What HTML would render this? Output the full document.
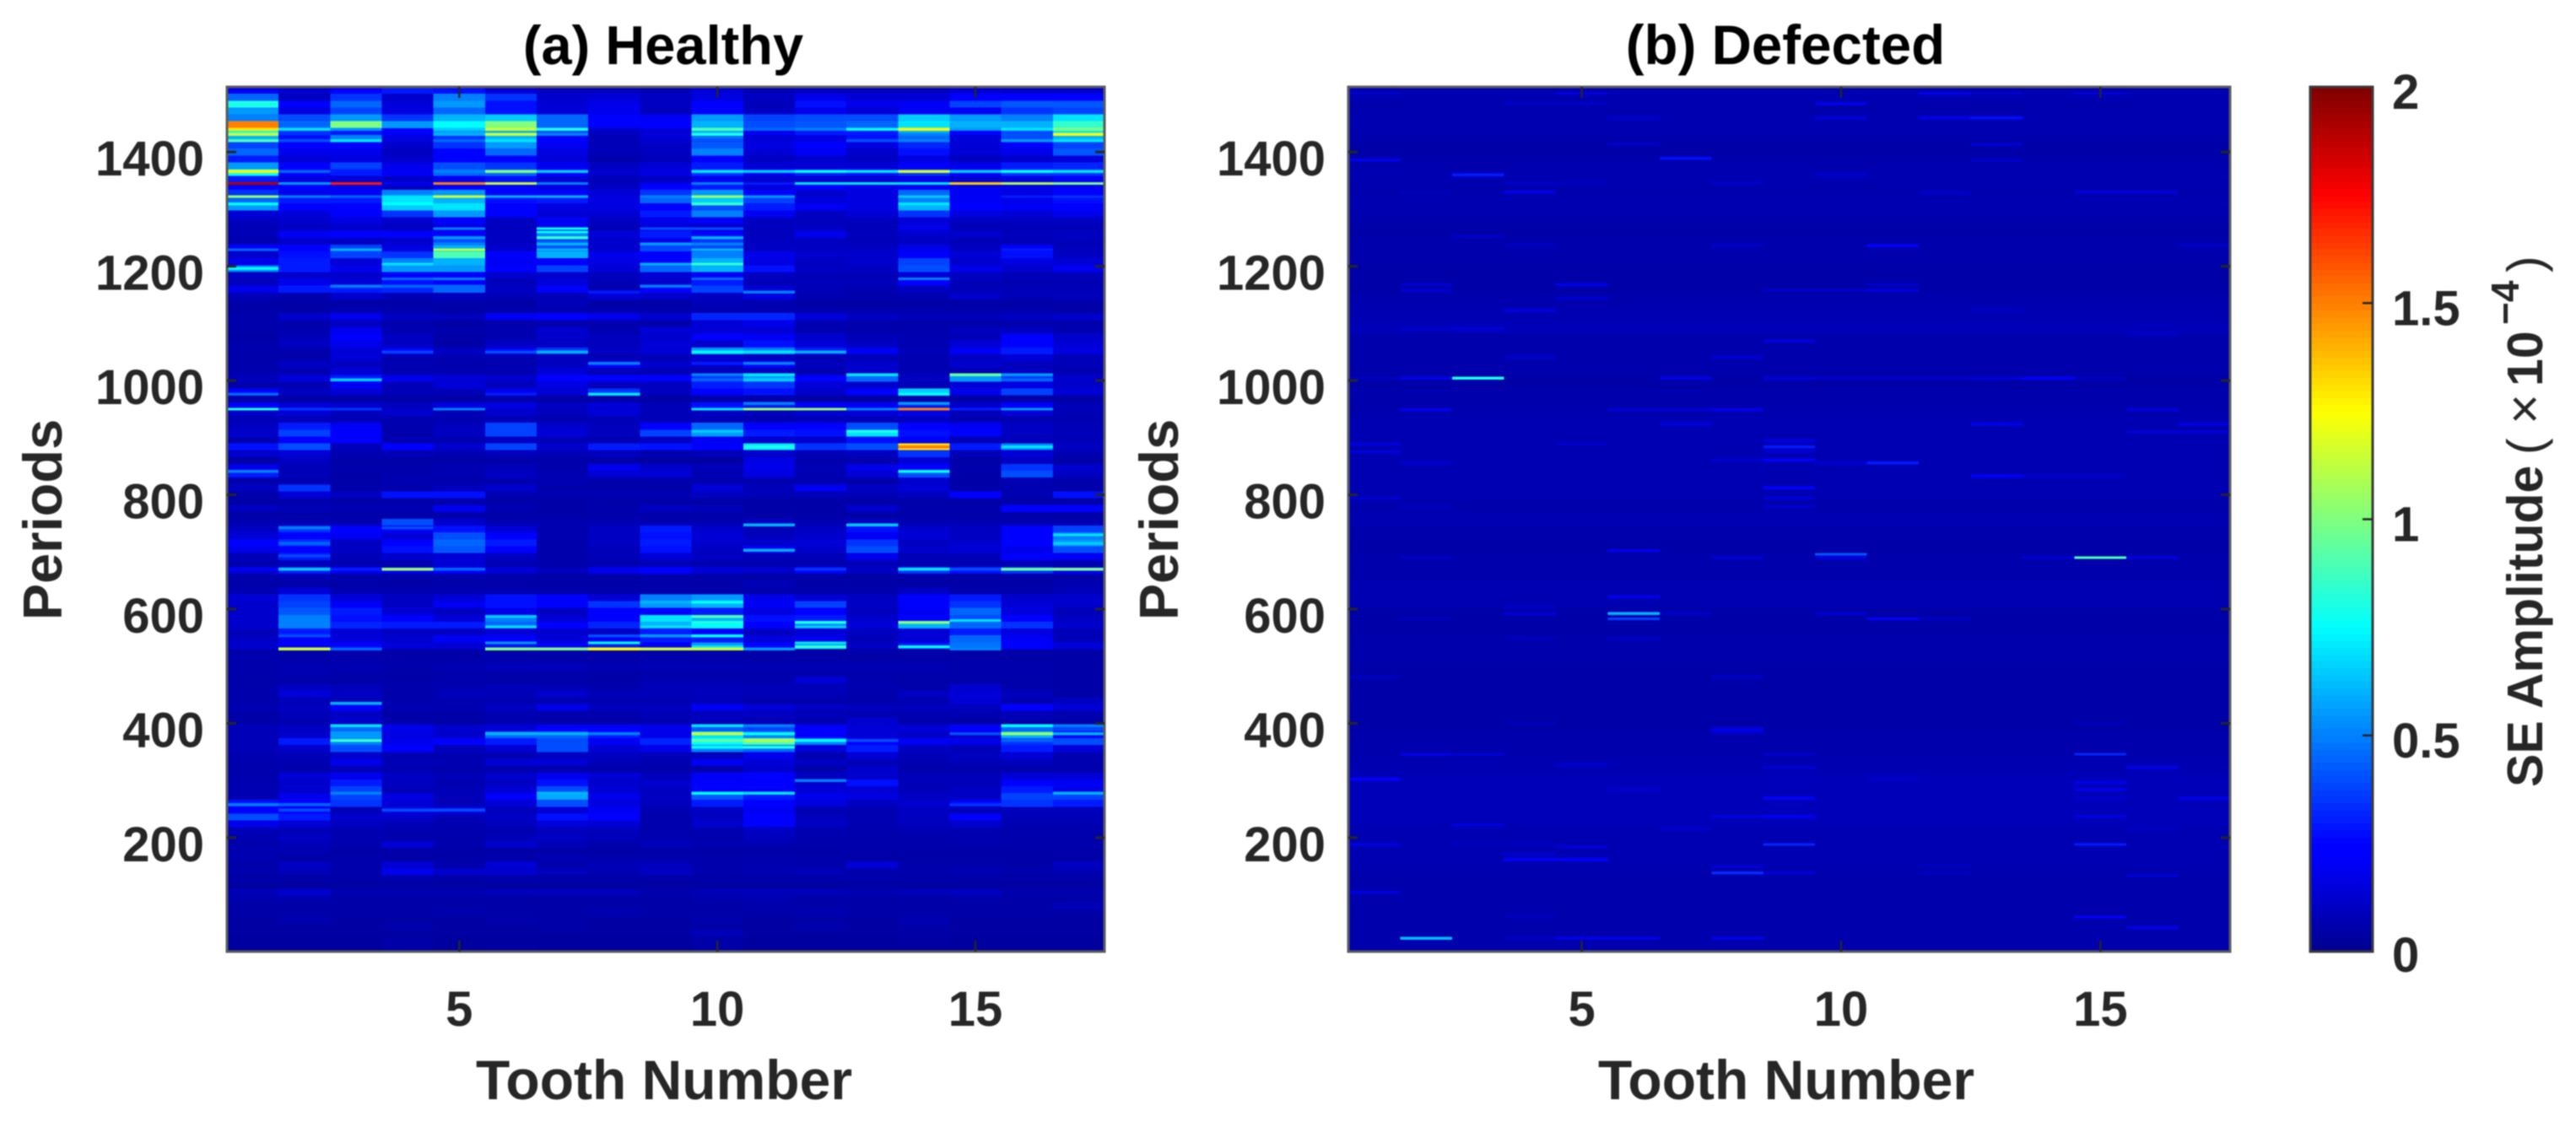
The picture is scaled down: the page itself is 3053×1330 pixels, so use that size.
<!DOCTYPE html>
<html lang="en">
<head>
<meta charset="utf-8">
<title>SE Amplitude heatmaps: healthy and defected</title>
<style>
html,body{margin:0;padding:0;background:#fff;}
svg{display:block;filter:blur(0.8px);}
text{font-family:"Liberation Sans",Arial,sans-serif;font-weight:bold;fill:#262626;}
</style>
</head>
<body>
<svg id="figure" xmlns="http://www.w3.org/2000/svg" width="3053" height="1330" viewBox="0 0 3053 1330">
<rect width="3053" height="1330" fill="#fff"/>
<defs>
<clipPath id="clip-a"><rect x="269" y="103" width="1040" height="1025"/></clipPath>
<clipPath id="clip-b"><rect x="1598" y="103" width="1045" height="1025"/></clipPath>
</defs>
<g id="heat-a" clip-path="url(#clip-a)"></g>
<g id="heat-b" clip-path="url(#clip-b)"></g>
<g id="colorbar"></g>
<g id="axes"></g>
<text x="786" y="76" font-size="65" text-anchor="middle" style="fill:#000">(a) Healthy</text>
<text x="2116" y="76" font-size="65.5" text-anchor="middle" style="fill:#000">(b) Defected</text>
<text x="787" y="1303" font-size="66" text-anchor="middle">Tooth Number</text>
<text x="2117" y="1303" font-size="66" text-anchor="middle">Tooth Number</text>
<text transform="translate(73,616) rotate(-90)" font-size="65" text-anchor="middle">Periods</text>
<text transform="translate(1396,616) rotate(-90)" font-size="65" text-anchor="middle">Periods</text>
<g>
<text transform="translate(3013,933) rotate(-90)" font-size="59">SE Amplitude</text>
<text transform="translate(3013,539) rotate(-90)" font-size="59" style="font-weight:normal">(</text>
<text transform="translate(3013,503) rotate(-90)" font-size="62" style="font-weight:normal">×</text>
<text transform="translate(3013,458) rotate(-90)" font-size="59">10</text>
<text transform="translate(2985,385) rotate(-90)" font-size="46">−4</text>
<text transform="translate(3013,323) rotate(-90)" font-size="59" style="font-weight:normal">)</text>
</g>
</svg>
<script>
// Tick labels
const toothTicks = [5, 10, 15];
const periodTicks = [200, 400, 600, 800, 1000, 1200, 1400];
const colorTicks = [0, 0.5, 1, 1.5, 2];
// Value range of the colour scale (units of 1e-6; 200 = 2 x 1e-4)
const colorMax = 200;
const periodMax = 1514;
const periodMin = 0.5;
const healthyRowSpan = 12;
const defectedRowSpan = 24;
const streakSpan = 5;

// Healthy: amplitude per 12-period band, top row first, one value per tooth 1..17
const healthyRows = [
[20,12,22,30,28,14,10,10,8,14,8,10,10,10,14,12,12],
[45,10,35,12,50,35,12,14,10,16,10,18,14,14,25,25,22],
[80,22,45,15,55,28,14,18,10,25,8,28,18,20,38,42,42],
[55,16,38,16,45,28,14,18,9,22,10,18,14,20,20,35,38],
[50,40,55,35,60,65,45,25,20,55,38,40,40,65,55,50,70],
[150,45,100,55,75,100,45,22,22,60,40,42,45,70,60,60,85],
[80,35,30,25,55,60,40,10,14,60,20,30,30,60,22,40,70],
[60,28,50,16,35,60,22,8,14,45,14,16,28,45,15,40,60],
[38,25,25,12,35,55,20,8,10,42,16,25,16,32,14,25,38],
[45,18,18,10,22,45,16,8,10,50,14,20,12,28,14,18,42],
[30,14,16,12,22,25,14,6,8,22,10,12,10,16,10,12,15],
[55,22,38,18,40,35,20,10,14,30,14,14,14,25,18,30,32],
[75,25,30,20,45,45,25,12,16,35,22,30,28,35,22,35,35],
[30,16,14,12,20,28,14,8,10,20,12,14,14,18,14,16,25],
[22,22,18,10,25,22,16,10,25,30,15,22,18,20,18,18,20],
[35,18,20,50,55,25,25,14,35,55,25,12,16,45,20,16,25],
[45,30,30,70,60,28,30,16,45,65,38,15,16,50,20,18,28],
[55,24,25,65,70,25,16,16,22,40,30,20,16,60,22,20,22],
[15,15,25,35,55,22,14,14,30,50,20,10,14,35,16,14,18],
[10,12,16,12,25,10,20,10,18,20,10,9,9,14,10,10,10],
[8,10,12,10,16,9,18,8,14,12,9,10,8,18,8,8,8],
[8,20,22,22,22,10,50,14,30,25,9,18,9,12,12,9,10],
[7,12,10,12,40,10,40,12,18,35,10,10,8,10,8,8,8],
[25,22,38,16,60,12,40,12,38,38,10,10,10,18,10,20,9],
[12,28,38,35,90,22,60,18,25,50,18,12,12,25,14,28,10],
[18,30,14,50,60,20,25,16,25,60,16,10,12,38,12,16,14],
[50,30,18,55,55,25,38,14,45,60,28,10,10,40,18,12,20],
[10,12,12,22,25,12,12,9,14,20,10,8,8,14,10,8,8],
[9,18,14,28,25,8,15,8,12,30,8,8,8,25,8,7,7],
[18,30,30,32,45,10,25,7,25,38,14,8,7,10,8,8,8],
[8,6,12,8,9,8,8,14,12,10,16,7,6,7,12,8,9],
[5,5,5,5,6,5,8,5,5,8,7,5,5,5,5,5,5],
[5,5,7,6,5,6,7,6,6,7,7,6,6,6,6,6,5],
[6,12,18,10,9,20,25,18,12,32,32,15,10,8,8,10,12],
[6,6,10,6,5,6,6,6,6,14,18,7,6,6,6,6,6],
[6,7,18,7,6,7,12,7,14,14,14,7,6,6,9,10,7],
[5,8,22,10,5,7,12,9,12,22,20,12,8,7,8,22,12],
[6,10,18,10,5,10,10,9,14,12,28,14,10,7,14,22,14],
[6,6,14,22,10,22,35,10,14,55,50,30,20,8,20,30,16],
[6,6,14,7,7,7,9,8,8,12,10,7,8,7,10,14,8],
[6,10,9,7,6,7,10,22,12,12,25,9,12,7,12,9,8],
[6,7,14,7,7,7,14,8,8,8,9,7,12,7,7,10,7],
[9,15,30,18,14,12,25,22,22,35,55,25,45,10,55,35,12],
[6,7,20,8,14,9,16,9,9,30,35,14,12,8,14,16,12],
[25,10,14,8,8,18,14,35,10,22,28,12,22,65,18,38,14],
[6,5,5,5,5,6,5,5,5,6,6,5,5,6,5,5,5],
[25,14,12,10,16,16,10,14,8,28,30,25,20,30,12,22,8],
[12,14,9,12,8,12,9,14,8,10,10,14,14,18,8,14,8],
[8,8,8,7,7,8,7,8,8,8,7,8,8,10,7,7,7],
[10,30,20,6,9,38,12,9,25,45,25,22,40,22,20,10,8],
[12,38,25,6,10,38,14,9,38,55,30,28,70,28,25,10,8],
[7,22,22,7,7,10,8,7,10,20,12,12,28,20,8,8,8],
[28,40,8,22,12,38,12,30,28,22,70,35,40,130,30,50,10],
[12,14,7,8,7,9,8,9,7,8,12,8,10,35,8,14,7],
[5,10,5,5,5,5,5,5,4,4,16,6,6,14,5,10,5],
[18,8,6,6,7,8,6,18,12,8,18,8,18,25,6,35,12],
[30,8,5,6,7,10,7,14,14,7,16,7,14,40,5,40,10],
[6,7,5,7,6,7,7,6,6,7,7,7,6,12,5,7,6],
[10,35,6,6,9,12,6,6,5,14,8,20,10,14,5,7,6],
[6,14,10,28,28,7,7,7,7,10,8,8,8,10,22,7,28],
[5,6,5,5,6,5,5,5,5,5,5,5,5,5,5,5,5],
[10,8,7,7,18,7,5,6,10,8,5,5,12,6,6,22,22],
[5,5,5,5,6,5,5,6,5,5,5,5,5,5,5,5,5],
[7,7,7,40,12,7,7,7,7,7,10,7,10,7,7,7,7],
[10,35,22,22,28,14,6,10,30,12,8,10,28,12,10,22,38],
[14,22,20,14,40,25,7,10,28,14,9,12,20,14,10,25,50],
[22,35,10,25,45,30,6,10,30,12,12,14,35,10,12,22,55],
[18,22,10,28,42,25,6,8,28,10,25,12,40,12,14,18,40],
[8,30,8,12,14,10,6,8,14,10,8,8,18,8,8,25,20],
[7,8,7,7,14,7,6,7,8,7,7,7,8,7,7,8,7],
[14,30,18,20,25,14,9,18,25,14,12,20,10,35,28,35,25],
[6,7,6,5,6,6,5,5,6,6,5,5,5,5,5,5,5],
[5,5,5,5,5,5,5,5,5,5,8,5,5,5,5,5,7],
[7,14,7,7,7,7,6,6,6,6,6,6,6,10,6,6,8],
[14,35,15,10,14,28,25,14,50,55,18,14,10,22,30,12,12],
[12,38,20,10,20,28,22,35,55,60,20,38,10,25,35,14,12],
[12,42,30,14,10,18,10,22,25,30,16,25,9,20,45,16,8],
[12,50,28,25,14,50,14,25,70,60,28,30,12,22,40,25,10],
[12,50,32,30,30,45,25,32,60,75,22,50,14,60,45,35,12],
[8,30,14,10,10,14,12,10,30,25,10,14,10,14,30,16,8],
[10,25,15,12,20,22,14,20,30,30,15,18,8,14,45,20,8],
[12,22,25,15,14,28,22,30,20,55,22,55,10,28,48,22,15],
[6,6,6,5,5,6,6,6,6,6,5,5,5,5,5,5,5],
[6,5,6,5,5,6,5,5,6,6,5,5,5,5,5,5,5],
[6,7,7,6,7,9,9,7,8,8,7,7,7,7,6,6,5],
[6,7,6,5,6,6,6,5,6,6,6,6,6,6,6,6,5],
[5,5,5,5,6,5,5,5,7,7,6,14,6,5,5,5,5],
[6,10,8,6,7,8,7,6,8,8,8,8,7,6,12,6,5],
[6,14,10,6,8,8,12,8,8,9,8,8,6,10,14,9,5],
[6,8,8,6,7,7,7,7,7,8,6,6,6,7,14,7,10],
[7,9,25,7,7,10,18,9,9,20,14,10,9,9,9,25,14],
[5,8,10,5,5,7,6,6,8,9,10,8,7,7,7,8,7],
[5,7,12,6,5,7,6,6,7,9,8,7,12,6,5,6,5],
[8,10,45,18,12,14,25,25,18,42,38,25,14,14,22,45,38],
[8,12,55,16,12,45,45,30,18,70,50,22,14,12,12,60,22],
[8,30,50,18,25,30,40,20,32,75,90,50,22,20,18,35,40],
[8,12,40,25,9,14,40,14,18,50,45,15,30,10,8,30,15],
[7,8,12,7,7,7,10,10,8,9,18,7,14,8,10,14,7],
[6,7,18,8,7,14,14,8,7,20,14,10,8,7,8,9,7],
[6,6,8,7,6,6,6,6,6,6,12,6,12,6,6,6,6],
[6,14,18,10,8,12,18,14,9,20,25,10,12,8,8,14,14],
[7,12,30,10,7,10,28,12,12,22,22,12,28,8,8,22,20],
[7,12,38,8,8,14,40,14,10,25,25,14,14,8,10,30,18],
[7,18,38,16,8,25,58,18,10,42,30,18,16,10,10,38,38],
[28,25,35,14,8,14,40,16,9,30,22,16,10,12,25,35,30],
[22,22,8,18,18,9,14,20,7,10,20,7,7,10,8,9,9],
[40,30,12,12,8,10,28,22,6,10,25,9,7,10,25,8,8],
[18,14,10,8,7,9,15,14,6,12,22,10,7,9,12,7,7],
[8,8,7,7,6,7,9,9,6,7,10,7,6,7,7,6,6],
[7,10,7,6,6,8,10,8,7,6,9,6,6,6,7,6,6],
[6,8,6,14,6,12,8,6,8,7,7,6,6,6,6,6,6],
[7,7,5,5,5,5,5,5,5,5,5,5,5,5,5,5,5],
[7,5,6,5,5,6,7,6,6,6,6,6,5,5,5,5,5],
[5,10,6,14,6,14,6,8,9,6,7,6,14,6,6,5,10],
[6,8,6,18,12,12,9,7,10,6,7,8,6,6,7,6,7],
[5,5,5,6,5,6,5,5,5,5,5,5,6,5,5,5,5],
[4,4,4,4,4,4,4,4,4,4,4,4,4,4,4,4,4],
[8,12,7,7,7,8,9,9,6,8,8,8,7,8,10,6,6],
[6,6,5,5,5,5,5,5,5,6,7,5,5,5,5,5,5],
[5,5,5,5,5,5,5,5,5,5,6,5,5,5,5,5,8],
[5,5,5,5,6,5,5,7,5,5,5,7,5,5,5,5,5],
[4,7,4,4,4,6,5,4,4,6,4,4,4,7,4,4,4],
[4,4,4,6,4,4,5,4,4,5,4,6,4,5,4,4,4],
[4,4,4,4,4,4,4,4,4,8,4,4,4,5,4,4,4],
[3,3,3,5,3,3,3,3,3,5,3,3,3,4,3,3,3],
[3,3,3,5,3,4,3,3,3,5,3,3,3,3,3,3,3],
[3,3,3,3,3,3,3,3,3,3,3,3,3,3,3,3,3]
];

// Healthy: thin lines, each [period, tooth, value, tooth, value, ...]
const healthyStreaks = [
[1440,1,130,2,70,3,55,5,65,6,115,7,80,10,90,11,45,12,50,13,75,14,125,15,55,16,70,17,100],
[1431,1,115,5,60,6,115,7,50,10,80,14,50,17,125],
[1420,1,90,2,40,3,70,5,45,6,70,10,40,13,40,14,50,16,55,17,70],
[1366,1,125,2,45,5,50,6,100,7,65,10,70,11,65,12,75,13,70,14,115,15,65,16,75,17,70],
[1345,1,190,2,55,3,170,4,20,5,150,6,115,7,50,10,50,11,30,12,70,13,70,14,70,15,135,16,110,17,100],
[1322,1,105,2,50,3,45,4,70,5,115,6,60,7,60,9,50,10,105,11,55,14,65,16,30,17,35],
[1309,1,75,4,75,10,85,14,70],
[1266,5,50,7,75,9,40,10,40],
[1260,7,75],
[1250,5,55,7,85,10,60],
[1239,5,50,7,60,9,55,10,50],
[1229,1,45,3,60,5,110,7,60,9,40,10,60,16,30],
[1204,4,70,9,60,10,85],
[1196,1,75],
[1178,4,45,5,50,10,45,14,50],
[1165,3,50,4,45,5,45,9,50],
[1155,8,30,11,50],
[1050,4,38,6,40,7,60,10,75,11,70,12,60],
[1030,8,50,10,30,11,50],
[1010,10,50,11,70,13,70,15,95,16,55],
[1001,3,65,10,45,11,65,13,45,16,45],
[976,1,45,6,30,8,70,14,75],
[960,11,50,14,55],
[950,1,80,2,35,3,35,5,50,10,70,11,105,12,105,13,50,14,150,15,30,16,55],
[911,10,65,13,80],
[884,11,80,14,150,16,70],
[841,1,50,14,75],
[747,11,60,13,65],
[742,2,50,4,40],
[730,5,40,17,70],
[715,2,45,17,65],
[703,11,60],
[693,2,40],
[670,1,20,2,65,3,30,4,105,5,45,12,35,14,70,15,40,16,95,17,100],
[612,9,60,10,75],
[587,6,65,9,70,10,90],
[580,15,70],
[577,10,80,12,80,14,100],
[569,6,70,9,70,12,65],
[553,2,40,8,40,9,55,10,75],
[541,6,55,8,75,12,70],
[534,10,70,12,85,14,75],
[530,2,115,3,45,6,100,7,100,8,125,9,115,10,115,11,55,15,50],
[435,3,60],
[396,3,70,10,70,11,50,16,75,17,50],
[382,6,60,7,60,8,50,10,115,11,75,15,40,16,105,17,60],
[370,3,85,10,95,11,110,12,75,13,40,16,45],
[358,10,75,11,80],
[300,12,50],
[278,3,50,7,60,10,75,11,70,17,60],
[258,1,50,2,45,15,35],
[248,2,40,4,40,5,40]
];

// Defected: background level per 24-period band, top row first
const defectedRows = [7,6,7,6,5,6,7,6,7,6,5,6,6,5,5,6,7,8,6,6,6,5,6,6,7,7,7,7,7,7,6,7,6,5,6,6,7,7,5,5,6,6,5,5,5,5,5,6,6,7,8,8,8,8,7,7,7,6,6,6,6,6,6,7];

// Defected: thin lines, each [period, tooth, value, tooth, value, ...]
const defectedStreaks = [
[1503,1,12,5,15,12,18,13,12,15,14],
[1485,4,12,5,12,10,18],
[1460,6,12,10,15,12,18,13,28],
[1413,6,12,13,14],
[1389,7,28],
[1386,1,18,13,12],
[1360,3,30,10,12],
[1345,4,12,5,10,8,12],
[1330,2,10,4,18,12,12,15,15,16,15],
[1252,3,12],
[1236,4,10,8,12,11,22,17,12],
[1168,2,14,5,18,11,12],
[1158,2,14,9,12,10,12,11,16],
[1144,5,14],
[1123,4,16,13,10],
[1091,2,12,3,15],
[1081,16,12],
[1069,9,16],
[1041,4,12,8,14],
[1004,1,10,2,18,3,80,7,18,9,16,10,12,11,12,12,12,13,16,14,22,15,10],
[949,2,18,6,14,7,14,8,18,16,16],
[924,7,16,13,18,17,16],
[910,16,15,17,14],
[895,9,16],
[889,1,15,5,12],
[884,9,30],
[876,1,15,9,14],
[861,8,14,9,24],
[856,2,12,10,12,11,30],
[833,13,24,14,12,15,12],
[812,9,22],
[794,1,14,9,15],
[779,2,10,9,12],
[702,6,18],
[696,10,42],
[690,2,12,8,15,10,18,14,14,15,90,16,16],
[622,6,18],
[603,4,12],
[592,4,14,6,60,7,12,10,14],
[583,2,10,6,38,11,22,12,12],
[549,4,10,6,12],
[481,1,10,8,12],
[400,4,9,15,9],
[390,8,18],
[385,8,14],
[346,2,18,3,14,9,12,15,32],
[327,5,12],
[323,9,14,16,18],
[302,1,22,11,12],
[296,15,18],
[284,6,14,15,20],
[269,9,25,15,12,17,18],
[237,8,16,9,20,15,16],
[222,3,16],
[215,7,12,16,10],
[188,1,16,3,10,4,10,9,32,15,30],
[184,5,14],
[171,4,14],
[162,4,22,5,22],
[149,8,14,12,10],
[138,8,34,9,14,12,10],
[134,16,14],
[104,1,16],
[61,4,10,15,22],
[42,16,18],
[24,2,62,4,10,5,18,6,18,8,18]
];

const NS = 'http://www.w3.org/2000/svg';
const PLOT_TOP = 103, PLOT_BOTTOM = 1128;
const panelA = {left: 269, width: 1040};
const panelB = {left: 1598, width: 1045};
const toothCount = 17;

function yScale(period) {
  return PLOT_BOTTOM - (period - periodMin) / (periodMax - periodMin) * (PLOT_BOTTOM - PLOT_TOP);
}
function xScale(panel, tooth) {
  return panel.left + (tooth - 0.5) / toothCount * panel.width;
}
function jet(value) {
  const v = Math.max(0, Math.min(1, value / colorMax));
  const clamp = c => Math.round(255 * Math.max(0, Math.min(1, c)));
  const r = clamp(1.5 - Math.abs(4 * v - 3));
  const g = clamp(1.5 - Math.abs(4 * v - 2));
  const b = clamp((4 * v < 1 ? 1.56 : 1.5) - Math.abs(4 * v - 1));
  return 'rgb(' + r + ',' + g + ',' + b + ')';
}
function addRect(parent, x, y, w, h, fill) {
  const el = document.createElementNS(NS, 'rect');
  el.setAttribute('x', x);
  el.setAttribute('y', y);
  el.setAttribute('width', w);
  el.setAttribute('height', h);
  el.setAttribute('fill', fill);
  el.setAttribute('shape-rendering', 'crispEdges');
  parent.appendChild(el);
  return el;
}
function addLine(parent, x1, y1, x2, y2, color, width) {
  const el = document.createElementNS(NS, 'line');
  el.setAttribute('x1', x1);
  el.setAttribute('y1', y1);
  el.setAttribute('x2', x2);
  el.setAttribute('y2', y2);
  el.setAttribute('stroke', color);
  el.setAttribute('stroke-width', width);
  parent.appendChild(el);
  return el;
}
function addText(parent, x, y, anchor, size, content) {
  const el = document.createElementNS(NS, 'text');
  el.setAttribute('x', x);
  el.setAttribute('y', y);
  el.setAttribute('text-anchor', anchor);
  el.setAttribute('font-size', size);
  el.textContent = content;
  parent.appendChild(el);
  return el;
}
function drawStreaks(parent, panel, streaks) {
  streaks.forEach(function (s) {
    const y = yScale(s[0] + streakSpan / 2);
    const h = yScale(s[0] - streakSpan / 2) - y;
    for (let i = 1; i < s.length; i += 2) {
      const x = xScale(panel, s[i] - 0.5);
      const w = xScale(panel, s[i] + 0.5) - x;
      const el = addRect(parent, x, y, w, h, jet(s[i + 1]));
      
      
    }
  });
}

// Healthy panel
const heatA = document.getElementById('heat-a');
healthyRows.forEach(function (row, r) {
  const top = periodMax - r * healthyRowSpan;
  const y = yScale(top);
  const h = yScale(top - healthyRowSpan) - y;
  row.forEach(function (value, c) {
    const x = xScale(panelA, c + 0.5);
    const w = xScale(panelA, c + 1.5) - x;
    const el = addRect(heatA, x, y, w + 0.5, h + 0.5, jet(value));
    
    
  });
});
drawStreaks(heatA, panelA, healthyStreaks);

// Defected panel
const heatB = document.getElementById('heat-b');
defectedRows.forEach(function (value, r) {
  const top = periodMax - r * defectedRowSpan;
  const y = yScale(top);
  const h = yScale(top - defectedRowSpan) - y;
  const el = addRect(heatB, panelB.left, y, panelB.width, h + 0.5, jet(value));
  
  
});
drawStreaks(heatB, panelB, defectedStreaks);

// Axes, ticks and tick labels
const axes = document.getElementById('axes');
[panelA, panelB].forEach(function (panel) {
  const right = panel.left + panel.width;
  const box = document.createElementNS(NS, 'rect');
  box.setAttribute('x', panel.left);
  box.setAttribute('y', PLOT_TOP);
  box.setAttribute('width', panel.width);
  box.setAttribute('height', PLOT_BOTTOM - PLOT_TOP);
  box.setAttribute('fill', 'none');
  box.setAttribute('stroke', '#5a5a5a');
  box.setAttribute('stroke-width', '3');
  
  
  axes.appendChild(box);
  toothTicks.forEach(function (t) {
    const x = xScale(panel, t);
    const tb = addLine(axes, x, PLOT_BOTTOM, x, PLOT_BOTTOM - 13, '#262626', 2.5);
    
    
    const tt = addLine(axes, x, PLOT_TOP, x, PLOT_TOP + 13, '#262626', 2.5);
    
    
    const lab = addText(axes, x, 1216, 'middle', 58, String(t));
    
    
  });
  periodTicks.forEach(function (p) {
    const y = yScale(p);
    const tl = addLine(axes, panel.left, y, panel.left + 11, y, '#262626', 3);
    
    
    const tr = addLine(axes, right, y, right - 11, y, '#262626', 3);
    
    
    const lab = addText(axes, panel.left - 27, y + 28, 'end', 58, String(p));
    
    
  });
});

// Colorbar
const cb = document.getElementById('colorbar');
const CB_LEFT = 2738, CB_RIGHT = 2812;
function cbY(value) {
  return PLOT_BOTTOM - value / (colorMax / 100) * (PLOT_BOTTOM - PLOT_TOP);
}
for (let i = 0; i < 128; i++) {
  const lo = i / 128 * 2, hi = (i + 1) / 128 * 2;
  const seg = addRect(cb, CB_LEFT, cbY(hi), CB_RIGHT - CB_LEFT, cbY(lo) - cbY(hi) + 0.5, jet((lo + hi) / 2 * 100));
  
  
}
const cbFrame = document.createElementNS(NS, 'rect');
cbFrame.setAttribute('x', CB_LEFT);
cbFrame.setAttribute('y', PLOT_TOP);
cbFrame.setAttribute('width', CB_RIGHT - CB_LEFT);
cbFrame.setAttribute('height', PLOT_BOTTOM - PLOT_TOP);
cbFrame.setAttribute('fill', 'none');
cbFrame.setAttribute('stroke', '#3a3a3a');
cbFrame.setAttribute('stroke-width', '3');


cb.appendChild(cbFrame);
colorTicks.forEach(function (v) {
  const y = cbY(v);
  if (v > 0 && v < 2) {
    const t = addLine(cb, CB_RIGHT, y, CB_RIGHT - 12, y, '#262626', 2.5);
    
    
  }
  const dy = v === 0 ? 24 : 26;
  const lab = addText(cb, 2835, y + dy, 'start', 58, String(v));
  
  
});
</script>
</body>
</html>
